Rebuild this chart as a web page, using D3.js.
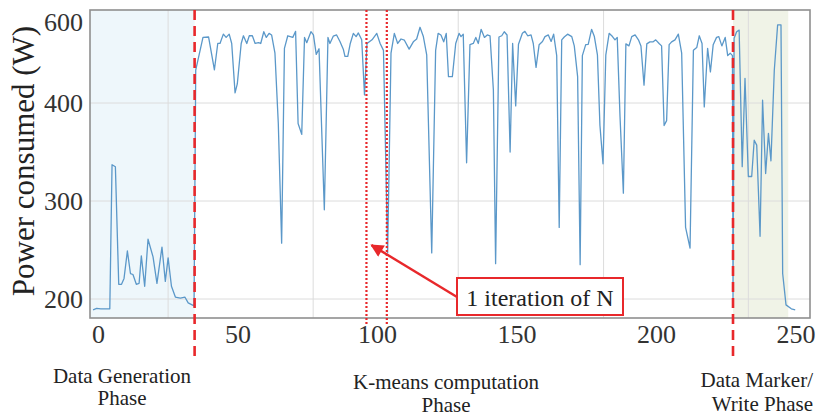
<!DOCTYPE html>
<html>
<head>
<meta charset="utf-8">
<script src="https://cdn.jsdelivr.net/npm/d3@7"></script>
<style>
  body { margin: 0; background: #fff; }
</style>
</head>
<body>
<div class="container"></div>
<script>
/* globals d3 */
// sample time (x) and power draw (W)
const timeS = [
  -1.8, -0.5, 1.0, 4.2, 5.0, 6.2, 7.4, 8.4, 9.3, 10.5,
  11.6, 12.5, 13.7, 14.7, 15.5, 16.7, 17.9, 19.7, 21.1, 22.9,
  24.1, 25.1, 26.3, 27.7, 29.5, 31.1, 32.3, 34.4, 35.0, 37.6,
  39.6, 41.7, 42.9, 43.7, 44.9, 45.9, 47.0, 47.9, 49.1, 49.9,
  51.3, 52.1, 53.3, 54.2, 55.3, 56.3, 57.5, 58.3, 59.4, 60.3,
  61.3, 62.2, 63.4, 64.6, 65.8, 66.8, 68.0, 68.9, 69.8, 70.8,
  71.7, 73.0, 74.0, 74.8, 76.3, 77.2, 78.2, 79.2, 81.1, 82.4,
  83.1, 84.3, 85.5, 86.7, 87.9, 88.5, 89.5, 90.4, 91.5, 92.5,
  93.3, 94.5, 95.5, 96.4, 98.2, 99.9, 101.1, 102.3, 103.8, 105.0,
  106.2, 107.4, 108.6, 109.8, 111.5, 113.0, 114.2, 115.4, 116.6, 117.8,
  119.6, 121.0, 121.9, 122.9, 123.9, 124.8, 125.6, 127.0, 128.2, 129.4,
  130.1, 130.9, 132.1, 133.3, 134.5, 135.4, 136.3, 137.3, 138.5, 139.5,
  140.5, 141.7, 142.5, 143.7, 144.7, 145.6, 146.6, 147.7, 148.6, 149.7,
  150.7, 152.1, 153.0, 154.0, 155.2, 156.0, 157.0, 158.1, 159.3, 160.2,
  161.4, 162.4, 163.3, 164.4, 165.3, 166.2, 167.1, 168.3, 169.8, 170.7,
  171.9, 172.8, 173.6, 174.8, 175.7, 176.9, 177.9, 179.0, 179.9, 181.0,
  182.0, 183.2, 184.4, 185.3, 186.1, 187.1, 188.3, 189.2, 190.3, 191.3,
  192.5, 193.7, 194.6, 195.7, 196.7, 197.8, 199.0, 199.9, 201.1, 202.0,
  202.9, 203.8, 204.7, 205.6, 206.8, 208.0, 209.2, 210.6, 212.2, 213.4,
  214.6, 215.5, 216.5, 217.3, 218.5, 219.5, 220.5, 221.7, 222.5, 223.6,
  224.8, 225.7, 226.6, 227.4, 227.6, 228.0, 228.9, 229.8, 230.9, 231.9,
  233.1, 234.3, 235.2, 236.1, 237.3, 238.2, 239.3, 240.3, 241.2, 242.4,
  243.6, 244.8, 245.4, 246.6, 248.5, 249.9
];
const powerW = [
  189, 190.5, 190, 190, 337, 335, 215, 215, 221, 249,
  226, 225, 215, 216, 244, 213, 261, 243, 216, 253,
  218, 242, 213, 202, 201, 202, 196, 193, 481, 562,
  563, 482, 547, 547, 570, 562, 570, 547, 425, 447,
  547, 566, 547, 566, 566, 547, 549, 547, 576, 562,
  572, 568, 523, 379, 257, 535, 566, 564, 562, 577,
  379, 368, 562, 549, 576, 568, 520, 534, 291, 562,
  547, 565, 568, 552, 533, 515, 515, 547, 572, 564,
  573, 556, 420, 547, 556, 572, 547, 530, 247, 523,
  572, 547, 558, 555, 533, 551, 558, 587, 564, 519,
  247, 530, 572, 568, 551, 572, 465, 465, 547, 572,
  564, 570, 339, 544, 547, 562, 547, 582, 562, 568,
  566, 432, 236, 563, 566, 576, 568, 350, 547, 397,
  545, 572, 577, 566, 568, 547, 488, 544, 552, 564,
  568, 552, 570, 517, 273, 556, 563, 570, 564, 541,
  465, 235, 517, 544, 545, 582, 564, 519, 377, 338,
  518, 572, 564, 556, 562, 386, 308, 546, 541, 564,
  568, 556, 541, 444, 546, 551, 551, 556, 547, 541,
  377, 382, 544, 551, 556, 570, 523, 273, 252, 530,
  537, 566, 547, 396, 535, 477, 544, 562, 564, 541,
  562, 517, 523, 517, 200, 560, 576, 580, 335, 461,
  325, 325, 362, 357, 264, 407, 328, 369, 341, 481,
  593, 593, 226, 194, 190, 189
];

const xTicks = [0, 50, 100, 150, 200, 250];
const yTicks = [200, 300, 400, 600];
const xGrid = [25.1, 77.1, 129.1, 181.2, 233.1];
const yGrid = [200, 300, 400];

// phase boundaries and one k-means iteration
const phaseSplits = [34.6, 227.6];
const iterBounds = [96.2, 103.5];
const genSpan = [-2.9, 34.6];
const writeSpan = [227.6, 247.4];
const arrowTip = [98, 255];

const w = 817;
const h = 418;
const padLeft = 90, padRight = 810, padTop = 10, padBottom = 318;
const serif = "'Liberation Serif'";

const data = timeS.map((t, i) => ({ t: t, p: powerW[i] }));

const xScale = d3.scaleLinear()
                 .domain([-2.9, 255.2])
                 .range([padLeft, padRight]);
// the printed y axis is not evenly spaced, so map it piece by piece
const yScale = d3.scaleLinear()
                 .domain([180.6, 200, 300, 400, 600, 629.6])
                 .range([padBottom, 299, 201, 103, 22, padTop]);

const red = "#e8282b";

const svg = d3.select(".container")
              .append("svg")
              .attr("width", w)
              .attr("height", h);

svg.append("defs").append("marker")
   .attr("id", "head")
   .attr("markerUnits", "userSpaceOnUse")
   .attr("viewBox", "0 0 10 10")
   .attr("refX", 9).attr("refY", 5)
   .attr("markerWidth", 15).attr("markerHeight", 13)
   .attr("orient", "auto")
   .append("path")
   .attr("d", "M0,0 L10,5 L0,10 Z")
   .attr("fill", red);

// phase shading
svg.append("rect")
   .attr("x", xScale(genSpan[0]))
   .attr("y", padTop)
   .attr("width", xScale(genSpan[1]) - xScale(genSpan[0]))
   .attr("height", padBottom - padTop)
   .attr("fill", "#eef7fb");
svg.append("rect")
   .attr("x", xScale(writeSpan[0]))
   .attr("y", padTop)
   .attr("width", xScale(writeSpan[1]) - xScale(writeSpan[0]))
   .attr("height", padBottom - padTop)
   .attr("fill", "#f0f3e7");

// grid
svg.selectAll(".gx")
   .data(xGrid)
   .enter()
   .append("line")
   .attr("class", "gx")
   .attr("x1", (d) => xScale(d)).attr("x2", (d) => xScale(d))
   .attr("y1", padTop).attr("y2", padBottom)
   .attr("stroke", "#dcdcdc").attr("stroke-width", 1);
svg.selectAll(".gy")
   .data(yGrid)
   .enter()
   .append("line")
   .attr("class", "gy")
   .attr("x1", padLeft).attr("x2", padRight)
   .attr("y1", (d) => yScale(d)).attr("y2", (d) => yScale(d))
   .attr("stroke", "#dcdcdc").attr("stroke-width", 1);

// power trace
const line = d3.line()
               .x((d) => xScale(d.t))
               .y((d) => yScale(d.p));
svg.append("path")
   .datum(data)
   .attr("d", line)
   .attr("fill", "none")
   .attr("stroke", "#5b98c9")
   .attr("stroke-width", 1.3)
   .attr("stroke-linejoin", "round");

// frame
svg.append("rect")
   .attr("x", padLeft).attr("y", padTop)
   .attr("width", padRight - padLeft).attr("height", padBottom - padTop)
   .attr("fill", "none")
   .attr("stroke", "#8f8f8f")
   .attr("stroke-width", 1.6);

// axes
const xAxis = d3.axisBottom(xScale).tickValues(xTicks).tickSize(0).tickPadding(7);
const yAxis = d3.axisLeft(yScale).tickValues(yTicks).tickSize(0).tickPadding(7);

const gx = svg.append("g")
              .attr("transform", "translate(0," + padBottom + ")")
              .attr("id", "x-axis")
              .call(xAxis);
const gy = svg.append("g")
              .attr("transform", "translate(" + padLeft + ",0)")
              .attr("id", "y-axis")
              .call(yAxis);
[gx, gy].forEach((g) => {
  g.select(".domain").remove();
  g.selectAll("text")
   .style("font-family", serif)
   .style("font-size", "26px")
   .attr("fill", "#333");
});

svg.append("text")
   .attr("transform", "translate(34,161) rotate(-90)")
   .attr("text-anchor", "middle")
   .style("font-family", serif)
   .style("font-size", "31px")
   .attr("fill", "#222")
   .text("Power consumed (W)");

// phase separators
svg.selectAll(".split")
   .data(phaseSplits)
   .enter()
   .append("line")
   .attr("class", "split")
   .attr("x1", (d) => xScale(d)).attr("x2", (d) => xScale(d))
   .attr("y1", padTop).attr("y2", 357)
   .attr("stroke", red)
   .attr("stroke-width", 2.6)
   .attr("stroke-dasharray", "10,6");

svg.selectAll(".iter")
   .data(iterBounds)
   .enter()
   .append("line")
   .attr("class", "iter")
   .attr("x1", (d) => xScale(d)).attr("x2", (d) => xScale(d))
   .attr("y1", padTop).attr("y2", 325)
   .attr("stroke", red)
   .attr("stroke-width", 2.2)
   .attr("stroke-dasharray", "2,2");

// annotation
svg.append("line")
   .attr("x1", 457).attr("y1", 297)
   .attr("x2", xScale(arrowTip[0])).attr("y2", yScale(arrowTip[1]))
   .attr("stroke", red)
   .attr("stroke-width", 2.4)
   .attr("marker-end", "url(#head)");
svg.append("rect")
   .attr("x", 457).attr("y", 278)
   .attr("width", 166).attr("height", 37)
   .attr("fill", "#fff")
   .attr("stroke", red)
   .attr("stroke-width", 2);
svg.append("text")
   .attr("x", 540).attr("y", 306)
   .attr("text-anchor", "middle")
   .style("font-family", serif)
   .style("font-size", "24px")
   .attr("fill", "#222")
   .text("1 iteration of N");

// phase names under the axis
const phaseNames = [
  { x: 122, anchor: "middle", lines: ["Data Generation", "Phase"], y: [383, 405] },
  { x: 446, anchor: "middle", lines: ["K-means computation", "Phase"], y: [389, 412] },
  { x: 813, anchor: "end", lines: ["Data Marker/", "Write Phase"], y: [387, 411] }
];
phaseNames.forEach((ph) => {
  ph.lines.forEach((txt, i) => {
    svg.append("text")
       .attr("x", ph.x)
       .attr("y", ph.y[i])
       .attr("text-anchor", ph.anchor)
       .style("font-family", serif)
       .style("font-size", "21px")
       .attr("fill", "#222")
       .text(txt);
  });
});
</script>
</body>
</html>
